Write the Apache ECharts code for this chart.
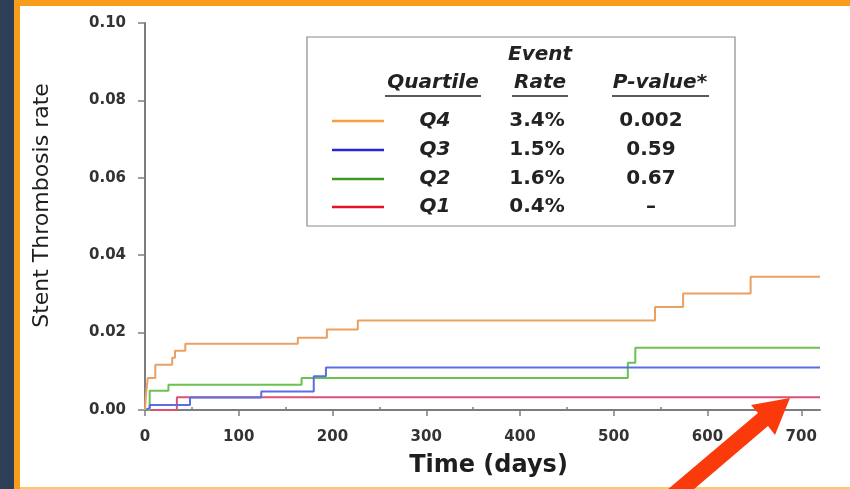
<!DOCTYPE html>
<html lang="en">
<head>
    <meta charset="UTF-8">
    <title>stent-thrombosis-km</title>
    <script src="https://cdn.jsdelivr.net/npm/echarts@6/dist/echarts.min.js"></script>
    <style>
        html, body {
            margin: 0;
            padding: 0;
            background: #ffffff;
        }

        #main {
            width: 850px;
            height: 489px;
        }
    </style>
</head>
<body>
<div id="main"></div>
<script>
    // 各四分位的事件时间（天）和累积发生率
    let q4Days = [0, 1, 3, 11, 29, 32, 43, 163, 194, 227, 544, 574, 646, 720];
    let q4Rate = [0, 0.004, 0.0083, 0.0117, 0.0135, 0.0153, 0.0171, 0.0187, 0.0208, 0.0231, 0.0266, 0.0301, 0.0344, 0.0344];
    let q3Days = [0, 1, 5, 48, 124, 180, 193, 720];
    let q3Rate = [0, 0.0005, 0.0013, 0.0032, 0.0048, 0.0087, 0.011, 0.011];
    let q2Days = [0, 5, 25, 167, 515, 523, 720];
    let q2Rate = [0, 0.005, 0.0065, 0.0083, 0.0122, 0.0161, 0.0161];
    let q1Days = [0, 34, 720];
    let q1Rate = [0, 0.0033, 0.0033];

    // 图例表格
    let quartiles = ['Q4', 'Q3', 'Q2', 'Q1'];
    let eventRates = ['3.4%', '1.5%', '1.6%', '0.4%'];
    let pValues = ['0.002', '0.59', '0.67', '–'];
    let legendColors = ['#f5a040', '#2626d6', '#3c9a22', '#e3142a'];

    // 刻度
    let xMajorTicks = [0, 100, 200, 300, 400, 500, 600, 700];
    let xMinorTicks = [50, 150, 250, 350, 450, 550, 650];

    let font = 'DejaVu Sans';

    function pairs(days, rates) {
        return days.map((d, i) => [d, rates[i]]);
    }

    function kmSeries(name, days, rates, color) {
        return {
            name: name,
            type: 'line',
            step: 'end',
            symbol: 'none',
            silent: true,
            lineStyle: {color: color, width: 2},
            data: pairs(days, rates)
        };
    }

    // 图例表格的图形元素
    function legendGraphics() {
        let items = [];
        let txt = (x, y, text, italic) => ({
            type: 'text', x: x, y: y, z: 10,
            style: {
                text: text, fill: '#222222', font: (italic ? 'italic ' : '') + 'bold 20px "' + font + '"',
                textAlign: 'center', textVerticalAlign: 'middle'
            }
        });
        let uline = (x1, x2, y) => ({
            type: 'line', z: 10,
            shape: {x1: x1, y1: y, x2: x2, y2: y},
            style: {stroke: '#222222', lineWidth: 1.5}
        });
        items.push({
            type: 'rect', z: 5,
            shape: {x: 307, y: 37, width: 428, height: 189},
            style: {fill: '#ffffff', stroke: '#8a8a8a', lineWidth: 1.2}
        });
        items.push(txt(540, 55, 'Event', true));
        items.push(txt(433, 83, 'Quartile', true));
        items.push(txt(540, 83, 'Rate', true));
        items.push(txt(660, 83, 'P-value*', true));
        items.push(uline(385, 481, 96));
        items.push(uline(512, 568, 96));
        items.push(uline(612, 709, 96));
        let rowY = [121, 150, 179, 207];
        quartiles.forEach((q, i) => {
            items.push({
                type: 'line', z: 10,
                shape: {x1: 332, y1: rowY[i], x2: 384, y2: rowY[i]},
                style: {stroke: legendColors[i], lineWidth: 2.5}
            });
            items.push(txt(435, rowY[i], q, true));
            items.push(txt(537, rowY[i], eventRates[i], false));
            items.push(txt(651, rowY[i], pValues[i], false));
        });
        return items;
    }

    // 边框和箭头
    function frameGraphics() {
        return [
            {type: 'rect', z: 1, shape: {x: 0, y: 0, width: 850, height: 6}, style: {fill: '#f89c1c'}},
            {type: 'rect', z: 1, shape: {x: 0, y: 0, width: 14, height: 489}, style: {fill: '#2c3f57'}},
            {type: 'rect', z: 1, shape: {x: 14, y: 0, width: 6, height: 489}, style: {fill: '#f89c1c'}},
            {type: 'rect', z: 1, shape: {x: 20, y: 487, width: 830, height: 2}, style: {fill: '#fcc868'}},
            {
                type: 'polygon', z: 20,
                shape: {
                    points: [[751, 405], [790, 398], [775, 435], [768, 426], [693, 490], [667, 490], [758, 413]]
                },
                style: {fill: '#fb3a0c'}
            }
        ];
    }

    let axisGray = '#7d7d7d';
    let option = {
        animation: false,
        grid: {left: 145, right: 30, top: 23, bottom: 79},
        xAxis: [
            {
                type: 'value',
                min: 0,
                max: 720,
                name: 'Time (days)',
                nameLocation: 'middle',
                nameGap: 44,
                nameTextStyle: {fontFamily: font, fontSize: 24, fontWeight: 'bold', color: '#1e1e1e', padding: [0, 0, 0, 12]},
                axisLine: {onZero: false, lineStyle: {color: axisGray, width: 2}},
                axisTick: {length: 6, customValues: xMajorTicks, lineStyle: {color: axisGray, width: 1.5}},
                axisLabel: {
                    customValues: xMajorTicks,
                    margin: 20,
                    fontFamily: font, fontSize: 15, fontWeight: 'bold', color: '#333'
                },
                splitLine: {show: false}
            },
            {
                type: 'value',
                min: 0,
                max: 720,
                axisLine: {show: false},
                axisTick: {length: 3, customValues: xMinorTicks, lineStyle: {color: axisGray, width: 1.5}},
                axisLabel: {show: false},
                splitLine: {show: false}
            }
        ],
        yAxis: {
            type: 'value',
            min: 0,
            max: 0.1,
            interval: 0.02,
            name: 'Stent Thrombosis rate',
            nameLocation: 'middle',
            nameRotate: 90,
            nameGap: 92,
            nameTextStyle: {fontFamily: font, fontSize: 22, color: '#1e1e1e', padding: [0, 0, 0, 22]},
            axisLine: {show: true, lineStyle: {color: axisGray, width: 2}},
            axisTick: {show: true, length: 7, lineStyle: {color: axisGray, width: 1.5}},
            axisLabel: {
                margin: 19,
                fontFamily: font, fontSize: 15, fontWeight: 'bold', color: '#333',
                formatter: v => v.toFixed(2)
            },
            splitLine: {show: false}
        },
        series: [
            kmSeries('Q1', q1Days, q1Rate, '#dc5078'),
            kmSeries('Q2', q2Days, q2Rate, '#6ac251'),
            kmSeries('Q3', q3Days, q3Rate, '#5a6ee2'),
            kmSeries('Q4', q4Days, q4Rate, '#eaa062')
        ],
        graphic: frameGraphics().concat(legendGraphics())
    };

    let myChart = echarts.init(document.getElementById('main'), null, {renderer: 'canvas'});
    myChart.setOption(option);
</script>
</body>
</html>
